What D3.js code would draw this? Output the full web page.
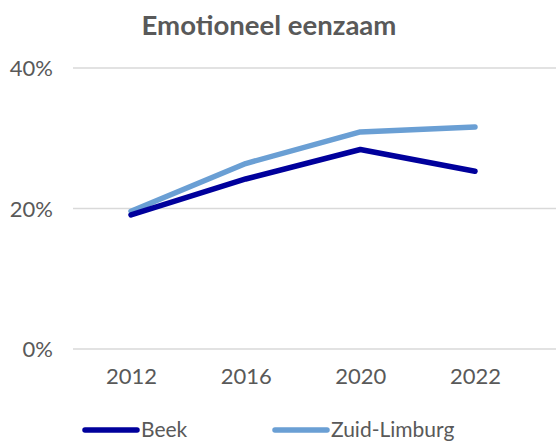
<!DOCTYPE html>
<html><head><meta charset="utf-8">
<script src="https://cdn.jsdelivr.net/npm/d3@7"></script>
<style>body{margin:0;background:#fff}svg{display:block}text{font-family:Lato,"Open Sans",sans-serif}</style>
</head><body>
<svg id="c" width="556" height="443"></svg>
<script>
const years = ["2012","2016","2020","2022"];
const beek = [19.1, 24.2, 28.4, 25.3];
const zuidLimburg = [19.6, 26.4, 30.9, 31.6];
const yTicks = [0, 20, 40];
const seriesNames = ["Beek","Zuid-Limburg"];
const seriesColors = ["#00009c","#6a9fd4"];
const title = "Emotioneel eenzaam";

const svg = d3.select("#c");
const W = 556, H = 443;
const x = d3.scalePoint().domain(years).range([131, 475]);
const y = d3.scaleLinear().domain([0, 40]).range([349, 68]);

// gridlines
svg.append("g").selectAll("line").data(yTicks).join("line")
  .attr("x1", 73).attr("x2", W)
  .attr("y1", d => y(d)).attr("y2", d => y(d))
  .attr("stroke", "#d9d9d9").attr("stroke-width", 1.3);

// y axis labels
const yAxis = d3.axisLeft(y).tickValues(yTicks).tickFormat(d => d + "%").tickSize(0).tickPadding(0);
const gy = svg.append("g").attr("transform", "translate(53,0)").call(yAxis);
gy.select(".domain").remove();
gy.selectAll("text").attr("font-size", 22).attr("fill", "#595959").attr("font-family", "Lato").attr("dy", "0.35em");

// x axis labels
const xAxis = d3.axisBottom(x).tickSize(0).tickPadding(0);
const gx = svg.append("g").attr("transform", "translate(0,368)").call(xAxis);
gx.select(".domain").remove();
gx.selectAll("text").attr("font-size", 22).attr("fill", "#595959").attr("font-family", "Lato").attr("dy", "0.71em");

// lines
const line = d3.line().x((d, i) => x(years[i])).y(d => y(d));
const paths = [zuidLimburg, beek].map((data, k) => {
  const i = k === 0 ? 1 : 0;
  return svg.append("path").datum(data).attr("d", line)
    .attr("fill", "none").attr("stroke", seriesColors[i])
    .attr("stroke-width", 5.5).attr("stroke-linecap", "round").attr("stroke-linejoin", "round");
});

// title
const t = svg.append("text").attr("x", 269).attr("y", 35).attr("text-anchor", "middle")
  .attr("font-size", 24).attr("font-weight", "bold").attr("fill", "#595959").text(title);
const tw = t.node().getComputedTextLength();
t.attr("font-size", 24 * 255 / tw);

// legend
const legX = [85, 275];
seriesNames.forEach((n, i) => {
  const g = svg.append("g");
  g.append("line").attr("x1", legX[i]).attr("x2", legX[i] + 52).attr("y1", 430).attr("y2", 430)
    .attr("stroke", seriesColors[i]).attr("stroke-width", 5.5).attr("stroke-linecap", "round");
  g.append("text").attr("x", legX[i] + 56).attr("y", 437).attr("font-size", 21)
    .attr("fill", "#595959").text(n);
});
</script>
</body></html>
